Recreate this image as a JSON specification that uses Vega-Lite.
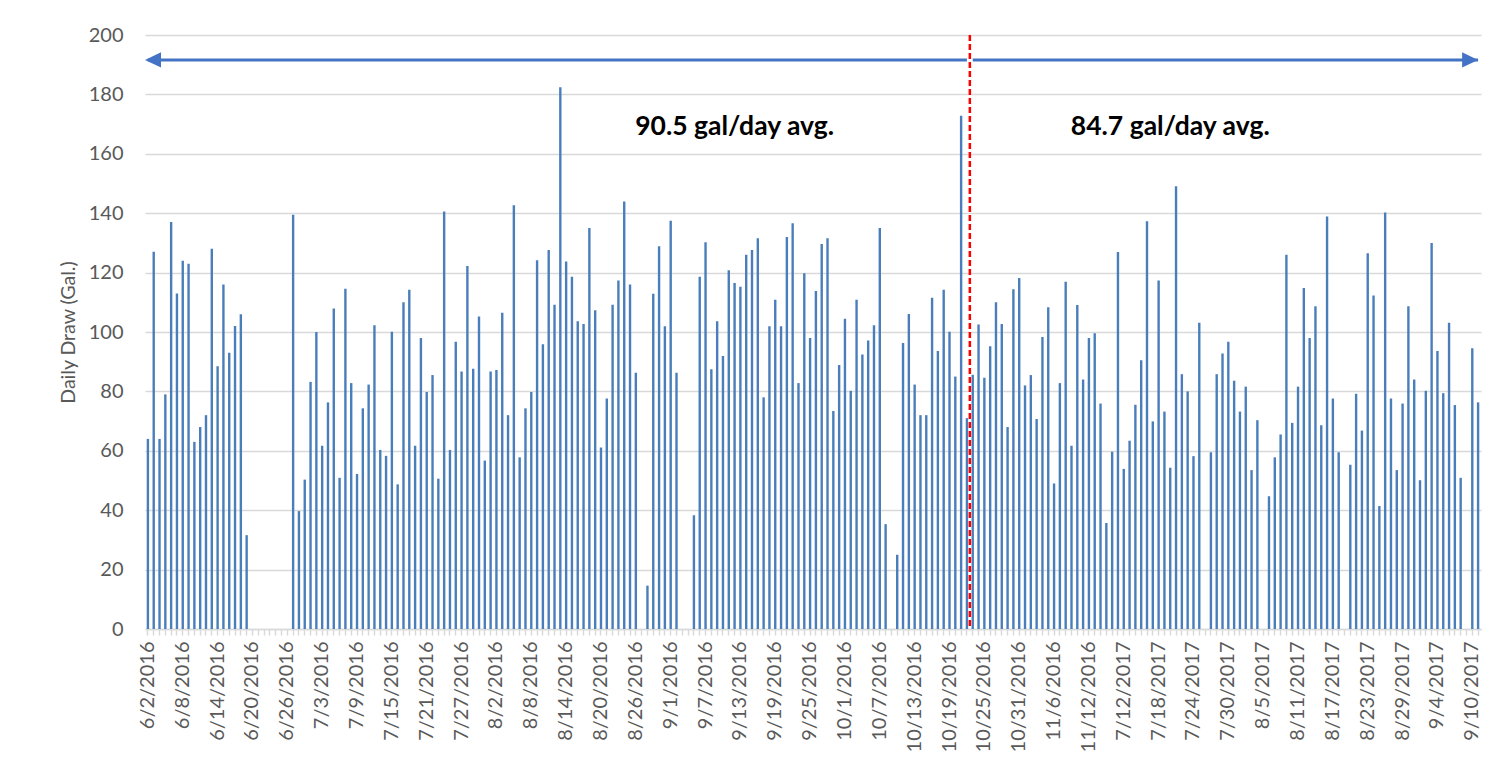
{
  "$schema": "https://vega.github.io/schema/vega-lite/v6.json",
  "width": 1336,
  "height": 594,
  "autosize": {"type": "none"},
  "padding": {"left": 145, "top": 35, "right": 28, "bottom": 145},
  "background": "white",
  "config": {"font": "Lato", "view": {"stroke": null}},
  "datasets": {
    "draw": [
      {"d":"6/2/2016","v":64},{"d":"6/3/2016","v":127},{"d":"6/4/2016","v":64},{"d":"6/5/2016","v":79},{"d":"6/6/2016","v":137},{"d":"6/7/2016","v":113},{"d":"6/8/2016","v":124},{"d":"6/9/2016","v":123},{"d":"6/10/2016","v":63},{"d":"6/11/2016","v":68},{"d":"6/12/2016","v":72},{"d":"6/13/2016","v":128},{"d":"6/14/2016","v":88.5},{"d":"6/15/2016","v":116},{"d":"6/16/2016","v":93},{"d":"6/17/2016","v":102},{"d":"6/18/2016","v":106},{"d":"6/19/2016","v":31.6},
      {"d":"6/20/2016","v":0},{"d":"6/21/2016","v":0},{"d":"6/22/2016","v":0},{"d":"6/23/2016","v":0},{"d":"6/24/2016","v":0},{"d":"6/25/2016","v":0},{"d":"6/26/2016","v":0},
      {"d":"6/27/2016","v":139.5},{"d":"6/28/2016","v":39.7},{"d":"6/29/2016","v":50.3},{"d":"7/1/2016","v":83.2},{"d":"7/2/2016","v":100},
      {"d":"7/3/2016","v":61.7},{"d":"7/4/2016","v":76.3},{"d":"7/5/2016","v":107.9},{"d":"7/6/2016","v":50.9},{"d":"7/7/2016","v":114.6},{"d":"7/8/2016","v":82.8},{"d":"7/9/2016","v":52.2},{"d":"7/10/2016","v":74.3},{"d":"7/11/2016","v":82.3},{"d":"7/12/2016","v":102.3},{"d":"7/13/2016","v":60.3},{"d":"7/14/2016","v":58.3},{"d":"7/15/2016","v":100.1},{"d":"7/16/2016","v":48.7},{"d":"7/17/2016","v":110},{"d":"7/18/2016","v":114.2},{"d":"7/19/2016","v":61.7},{"d":"7/20/2016","v":98},{"d":"7/21/2016","v":79.8},{"d":"7/22/2016","v":85.5},{"d":"7/23/2016","v":50.6},{"d":"7/24/2016","v":140.6},{"d":"7/25/2016","v":60.3},{"d":"7/26/2016","v":96.7},{"d":"7/27/2016","v":86.7},{"d":"7/28/2016","v":122.2},{"d":"7/29/2016","v":87.6},{"d":"7/30/2016","v":105.2},{"d":"7/31/2016","v":56.7},
      {"d":"8/1/2016","v":86.7},{"d":"8/2/2016","v":87.2},{"d":"8/3/2016","v":106.5},{"d":"8/4/2016","v":72},{"d":"8/5/2016","v":142.7},{"d":"8/6/2016","v":57.8},{"d":"8/7/2016","v":74.3},{"d":"8/8/2016","v":79.8},{"d":"8/9/2016","v":124.2},{"d":"8/10/2016","v":95.9},{"d":"8/11/2016","v":127.6},{"d":"8/12/2016","v":109.2},{"d":"8/13/2016","v":182.4},{"d":"8/14/2016","v":123.7},{"d":"8/15/2016","v":118.6},{"d":"8/16/2016","v":103.6},{"d":"8/17/2016","v":102.7},{"d":"8/18/2016","v":135},{"d":"8/19/2016","v":107.3},{"d":"8/20/2016","v":61.1},{"d":"8/21/2016","v":77.6},{"d":"8/22/2016","v":109.2},{"d":"8/23/2016","v":117.3},{"d":"8/24/2016","v":143.9},{"d":"8/25/2016","v":116},{"d":"8/26/2016","v":86.3},{"d":"8/27/2016","v":0},{"d":"8/28/2016","v":14.6},{"d":"8/29/2016","v":112.9},{"d":"8/30/2016","v":128.9},{"d":"8/31/2016","v":101.9},
      {"d":"9/1/2016","v":137.5},{"d":"9/2/2016","v":86.3},{"d":"9/3/2016","v":0},{"d":"9/4/2016","v":0},{"d":"9/5/2016","v":38.3},{"d":"9/6/2016","v":118.6},{"d":"9/7/2016","v":130.2},{"d":"9/8/2016","v":87.5},{"d":"9/9/2016","v":103.6},{"d":"9/10/2016","v":91.9},{"d":"9/11/2016","v":120.8},{"d":"9/12/2016","v":116.5},{"d":"9/13/2016","v":115.2},{"d":"9/14/2016","v":126},{"d":"9/15/2016","v":127.6},{"d":"9/16/2016","v":131.6},{"d":"9/17/2016","v":78},{"d":"9/18/2016","v":101.9},{"d":"9/19/2016","v":110.9},{"d":"9/20/2016","v":101.9},{"d":"9/21/2016","v":132},{"d":"9/22/2016","v":136.6},{"d":"9/23/2016","v":82.8},{"d":"9/24/2016","v":119.8},{"d":"9/25/2016","v":98},{"d":"9/26/2016","v":113.8},{"d":"9/27/2016","v":129.6},{"d":"9/28/2016","v":131.6},{"d":"9/29/2016","v":73.4},{"d":"9/30/2016","v":88.9},
      {"d":"10/1/2016","v":104.5},{"d":"10/2/2016","v":80.2},{"d":"10/3/2016","v":110.9},{"d":"10/4/2016","v":92.4},{"d":"10/5/2016","v":97.1},{"d":"10/6/2016","v":102.3},{"d":"10/7/2016","v":135},{"d":"10/8/2016","v":35.3},{"d":"10/9/2016","v":0},{"d":"10/10/2016","v":25},{"d":"10/11/2016","v":96.3},{"d":"10/12/2016","v":106.1},{"d":"10/13/2016","v":82.3},{"d":"10/14/2016","v":72},{"d":"10/15/2016","v":72},{"d":"10/16/2016","v":111.5},{"d":"10/17/2016","v":93.6},{"d":"10/18/2016","v":114.2},{"d":"10/19/2016","v":100.1},{"d":"10/20/2016","v":85},{"d":"10/21/2016","v":172.8},{"d":"10/22/2016","v":71},{"d":"10/23/2016","v":85.6},{"d":"10/24/2016","v":102.5},{"d":"10/25/2016","v":84.6},{"d":"10/26/2016","v":95.2},{"d":"10/27/2016","v":110},{"d":"10/28/2016","v":102.7},{"d":"10/29/2016","v":68},{"d":"10/30/2016","v":114.4},{"d":"10/31/2016","v":118.2},
      {"d":"11/1/2016","v":82},{"d":"11/2/2016","v":85.5},{"d":"11/3/2016","v":70.7},{"d":"11/4/2016","v":98.3},{"d":"11/5/2016","v":108.3},{"d":"11/6/2016","v":49},{"d":"11/7/2016","v":82.8},{"d":"11/8/2016","v":116.9},{"d":"11/9/2016","v":61.7},{"d":"11/10/2016","v":109.1},{"d":"11/11/2016","v":84},{"d":"11/12/2016","v":98},{"d":"11/13/2016","v":99.6},{"d":"11/14/2016","v":75.9},{"d":"11/15/2016","v":35.7},
      {"d":"7/10/2017","v":59.7},{"d":"7/11/2017","v":126.9},{"d":"7/12/2017","v":53.9},{"d":"7/13/2017","v":63.4},{"d":"7/14/2017","v":75.5},{"d":"7/15/2017","v":90.5},{"d":"7/16/2017","v":137.3},{"d":"7/17/2017","v":69.9},{"d":"7/18/2017","v":117.3},{"d":"7/19/2017","v":73.2},{"d":"7/20/2017","v":54.3},{"d":"7/21/2017","v":149.1},{"d":"7/22/2017","v":85.8},{"d":"7/23/2017","v":80},{"d":"7/24/2017","v":58.2},{"d":"7/25/2017","v":103.1},{"d":"7/26/2017","v":0},{"d":"7/27/2017","v":59.5},{"d":"7/28/2017","v":85.8},{"d":"7/29/2017","v":92.8},{"d":"7/30/2017","v":96.7},{"d":"7/31/2017","v":83.6},
      {"d":"8/1/2017","v":73.2},{"d":"8/2/2017","v":81.6},{"d":"8/3/2017","v":53.5},{"d":"8/4/2017","v":70.3},{"d":"8/5/2017","v":0},{"d":"8/6/2017","v":44.7},{"d":"8/7/2017","v":57.8},{"d":"8/8/2017","v":65.5},{"d":"8/9/2017","v":126},{"d":"8/10/2017","v":69.4},{"d":"8/11/2017","v":81.6},{"d":"8/12/2017","v":114.8},{"d":"8/13/2017","v":98},{"d":"8/14/2017","v":108.7},{"d":"8/15/2017","v":68.6},{"d":"8/16/2017","v":138.9},{"d":"8/17/2017","v":77.6},{"d":"8/18/2017","v":59.5},{"d":"8/19/2017","v":0},{"d":"8/20/2017","v":55.3},{"d":"8/21/2017","v":79.2},{"d":"8/22/2017","v":66.8},{"d":"8/23/2017","v":126.5},{"d":"8/24/2017","v":112.3},{"d":"8/25/2017","v":41.4},{"d":"8/26/2017","v":140.2},{"d":"8/27/2017","v":77.6},{"d":"8/28/2017","v":53.5},{"d":"8/29/2017","v":75.9},{"d":"8/30/2017","v":108.7},{"d":"8/31/2017","v":84},
      {"d":"9/1/2017","v":50.1},{"d":"9/2/2017","v":80.2},{"d":"9/3/2017","v":130},{"d":"9/4/2017","v":93.6},{"d":"9/5/2017","v":79.4},{"d":"9/6/2017","v":103.1},{"d":"9/7/2017","v":75.4},{"d":"9/8/2017","v":50.9},{"d":"9/9/2017","v":0},{"d":"9/10/2017","v":94.5},{"d":"9/11/2017","v":76.3}
    ],
    "arrows": [
      {"from":"6/2/2016","to":"10/22/2016","y":191.6},
      {"from":"10/23/2016","to":"9/11/2017","y":191.6}
    ],
    "notes": [
      {"d":"9/12/2016","y":169,"label":"90.5 gal/day avg."},
      {"d":"7/20/2017","y":169,"label":"84.7 gal/day avg."}
    ]
  },
  "layer": [
    {
      "data": {"name": "draw"},
      "mark": {"type": "bar", "color": "#4a7ebb", "size": 2.4},
      "encoding": {
        "x": {
          "field": "d", "type": "ordinal", "sort": null, "title": null,
          "scale": {"paddingInner": 0, "paddingOuter": 0},
          "axis": {
            "labelAngle": -90,
            "labelFontSize": 20,
            "labelColor": "#595959",
            "labelPadding": 6,
            "labelOverlap": false,
            "labelBound": false,
            "labelExpr": "indexof(['6/2/2016','6/8/2016','6/14/2016','6/20/2016','6/26/2016','7/3/2016','7/9/2016','7/15/2016','7/21/2016','7/27/2016','8/2/2016','8/8/2016','8/14/2016','8/20/2016','8/26/2016','9/1/2016','9/7/2016','9/13/2016','9/19/2016','9/25/2016','10/1/2016','10/7/2016','10/13/2016','10/19/2016','10/25/2016','10/31/2016','11/6/2016','11/12/2016','7/12/2017','7/18/2017','7/24/2017','7/30/2017','8/5/2017','8/11/2017','8/17/2017','8/23/2017','8/29/2017','9/4/2017','9/10/2017'], datum.value) >= 0 ? datum.value : ''",
            "domainColor": "#d9d9d9",
            "domainWidth": 1.5,
            "tickColor": "#d9d9d9",
            "tickSize": 6,
            "tickWidth": 1.5,
            "grid": false
          }
        },
        "y": {
          "field": "v", "type": "quantitative",
          "scale": {"domain": [0, 200], "nice": false},
          "title": "Daily Draw (Gal.)",
          "axis": {
            "values": [0, 20, 40, 60, 80, 100, 120, 140, 160, 180, 200],
            "grid": true,
            "gridColor": "#d9d9d9",
            "gridWidth": 1.3,
            "domain": false,
            "ticks": false,
            "labelFontSize": 20,
            "labelColor": "#595959",
            "labelPadding": 22,
            "titleFontSize": 19.5,
            "titleFontWeight": "normal",
            "titleColor": "#595959",
            "titlePadding": 10
          }
        }
      }
    },
    {
      "data": {"name": "arrows"},
      "mark": {"type": "rule", "color": "#4472c4", "strokeWidth": 3},
      "encoding": {
        "x": {"field": "from", "type": "ordinal", "sort": null},
        "x2": {"field": "to"},
        "y": {"field": "y", "type": "quantitative"}
      }
    },
    {
      "data": {"values": [{"d": "6/2/2016", "y": 191.6}]},
      "mark": {"type": "point", "shape": "M0,0L2,-0.95L2,0.95Z", "size": 256, "filled": true, "color": "#4472c4", "opacity": 1},
      "encoding": {
        "x": {"field": "d", "type": "ordinal", "sort": null, "bandPosition": 0},
        "y": {"field": "y", "type": "quantitative"}
      }
    },
    {
      "data": {"values": [{"d": "9/11/2017", "y": 191.6}]},
      "mark": {"type": "point", "shape": "M0,0L-2,-0.95L-2,0.95Z", "size": 256, "filled": true, "color": "#4472c4", "opacity": 1},
      "encoding": {
        "x": {"field": "d", "type": "ordinal", "sort": null},
        "y": {"field": "y", "type": "quantitative"}
      }
    },
    {
      "data": {"values": [{"d": "10/23/2016"}]},
      "mark": {"type": "rule", "color": "#ff0000", "strokeWidth": 2.5, "strokeDash": [6, 3]},
      "encoding": {
        "x": {"field": "d", "type": "ordinal", "sort": null, "bandPosition": 0}
      }
    },
    {
      "data": {"name": "notes"},
      "mark": {"type": "text", "fontSize": 26.5, "fontWeight": "bold", "color": "#000000", "baseline": "middle", "align": "center"},
      "encoding": {
        "x": {"field": "d", "type": "ordinal", "sort": null},
        "y": {"field": "y", "type": "quantitative"},
        "text": {"field": "label"}
      }
    }
  ]
}
